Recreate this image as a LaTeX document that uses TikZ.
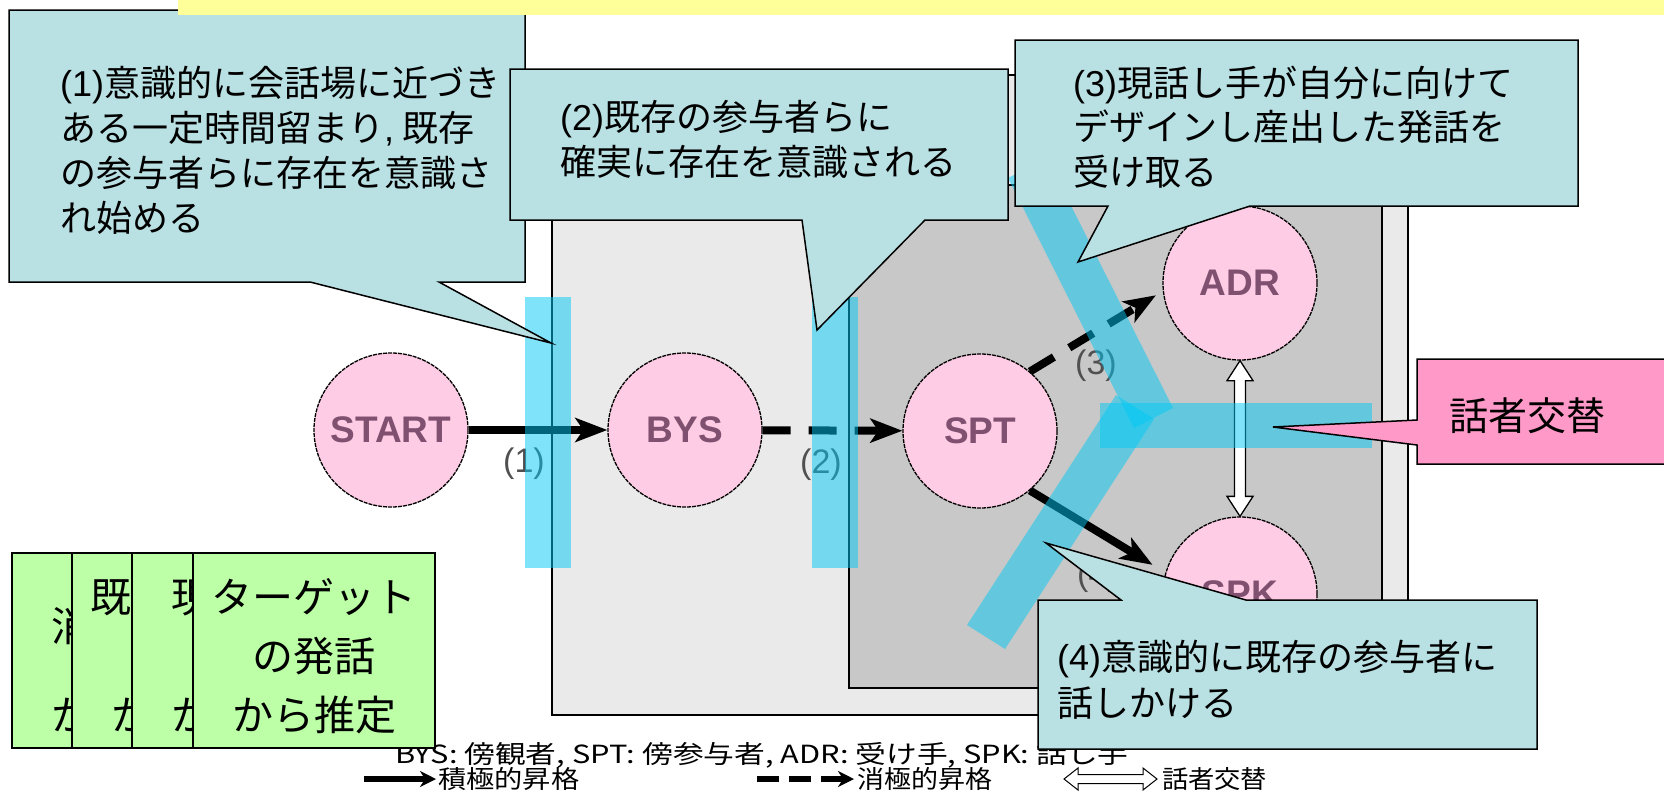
\documentclass[tikz,border=0pt]{standalone}
\usepackage{fontspec}
\setmainfont{Liberation Sans}
\newfontfamily\jp{Noto Sans CJK JP}
\usetikzlibrary{arrows.meta,calc}
\definecolor{cblue}{RGB}{185,224,227}
\definecolor{cpink}{RGB}{255,153,200}
\definecolor{cgreen}{RGB}{188,255,166}
\definecolor{cyellow}{RGB}{255,255,153}
\definecolor{gouter}{RGB}{234,234,234}
\definecolor{ginner}{RGB}{200,200,200}
\definecolor{npink}{RGB}{255,204,229}
\definecolor{ntext}{RGB}{128,80,112}
\definecolor{bcyan}{RGB}{0,200,245}
\definecolor{lgray}{RGB}{80,80,80}
\newcommand{\lat}[1]{{\rmfamily #1}}
\tikzset{
  callout/.style={fill=cblue, draw=black, line width=1.5pt, line join=miter},
  pinkcallout/.style={fill=cpink, draw=black, line width=1.5pt, line join=miter},
  gbox/.style={fill=cgreen, draw=black, line width=1.5pt},
  band/.style={fill=bcyan, fill opacity=0.5},
  state/.style={circle, minimum size=154pt, inner sep=0pt, fill=npink, draw=black,
    line width=1.3pt, dash pattern=on 4pt off 1pt, text=ntext, font=\bfseries\fontsize{37}{37}\selectfont},
  ctext/.style={anchor=base west, inner sep=0pt, font=\jp\fontsize{36}{45}\selectfont},
  gtext/.style={anchor=base, inner sep=0pt, font=\jp\fontsize{41}{58}\selectfont},
  legtext/.style={anchor=base west, inner sep=0pt, font=\jp\fontsize{25}{25}\selectfont},
  elab/.style={text=lgray, inner sep=0pt, font=\fontsize{34}{34}\selectfont},
  solidarr/.style={line width=8pt, -{Stealth[length=32pt,width=24pt,inset=8pt]}},
  dasharr/.style={line width=8pt, dash pattern=on 28pt off 18pt, -{Stealth[length=32pt,width=24pt,inset=8pt]}},
  hollow/.style={fill=white, draw=black, line width=1.3pt, line join=miter}
}
\begin{document}
\begin{tikzpicture}[x=1pt, y=-1pt]
\useasboundingbox (0,0) rectangle (1664,793);
% underlying diagram
\draw[fill=gouter, line width=2pt] (552,75) rectangle (1408,715);
\draw[fill=ginner, line width=2pt] (849,185) rectangle (1382,688);
\node[state] (START) at (391,430) {START};
\node[state] (BYS) at (685,430) {BYS};
\node[state] (SPT) at (980,431) {SPT};
\node[state] (ADR) at (1240,283) {ADR};
\node[state] (SPK) at (1240,594) {SPK};
\draw[solidarr] (START) -- (BYS);
\draw[dasharr] (BYS) -- (SPT);
\draw[dasharr, shorten >=8pt] (SPT.50) -- (ADR.186);
\draw[solidarr, shorten >=15pt] (SPT.-50) -- (SPK.164);
\draw[hollow] (ADR.south) -- ([xshift=13pt,yshift=-20pt]ADR.south) -- ([xshift=5.5pt,yshift=-20pt]ADR.south)
  -- ([xshift=5.5pt,yshift=20pt]SPK.north) -- ([xshift=13pt,yshift=20pt]SPK.north) -- (SPK.north)
  -- ([xshift=-13pt,yshift=20pt]SPK.north) -- ([xshift=-5.5pt,yshift=20pt]SPK.north)
  -- ([xshift=-5.5pt,yshift=-20pt]ADR.south) -- ([xshift=-13pt,yshift=-20pt]ADR.south) -- cycle;
\node[elab] (l1) at (524,464) {(1)};
\node[elab] (l2) at (821,465) {(2)};
\node[elab] (l3) at (1096,366) {(3)};
\node[elab] (l4) at (1098,577) {(4)};
% legend
\node[legtext] (leg1) at (395,763) {\scalebox{1.23}[1]{BYS: 傍観者, SPT: 傍参与者, ADR: 受け手, SPK: 話し手}};
\coordinate (la1) at (364,779);
\coordinate (la2) at (436,779);
\draw[line width=6pt, -{Stealth[length=16pt,width=16pt,inset=5pt]}] (la1) -- (la2);
\node[legtext] (leg2) at (438,788) {\scalebox{1.13}[1]{積極的昇格}};
\coordinate (lb1) at (757,779);
\coordinate (lb2) at (854,779);
\draw[line width=6pt, dash pattern=on 22pt off 10pt, -{Stealth[length=16pt,width=16pt,inset=5pt]}] (lb1) -- (lb2);
\node[legtext] (leg3) at (857,788) {\scalebox{1.08}[1]{消極的昇格}};
\coordinate (lc1) at (1064,779);
\coordinate (lc2) at (1157,779);
\draw[hollow, line width=1pt] (lc1) -- ([xshift=14pt,yshift=11pt]lc1) -- ([xshift=14pt,yshift=4.5pt]lc1)
  -- ([xshift=-14pt,yshift=4.5pt]lc2) -- ([xshift=-14pt,yshift=11pt]lc2) -- (lc2)
  -- ([xshift=-14pt,yshift=-11pt]lc2) -- ([xshift=-14pt,yshift=-4.5pt]lc2)
  -- ([xshift=14pt,yshift=-4.5pt]lc1) -- ([xshift=14pt,yshift=-11pt]lc1) -- cycle;
\node[legtext] (leg4) at (1162,788) {\scalebox{1.05}[1]{話者交替}};
% cyan bands
\fill[band] (525,297) rectangle (571,568);
\fill[band] (812,297) rectangle (858,568);
\fill[band] (1047,158) -- (1173,408) -- (1134,428) -- (1008,178) -- cycle;
\fill[band] (967,625) -- (1005,649) -- (1154,419) -- (1116,395) -- cycle;
\fill[band] (1100,403) rectangle (1372,448);
% callouts
\draw[callout] (9,10) -- (525,10) -- (525,282) -- (439,282) -- (551,343) -- (310,282) -- (9,282) -- cycle;
\node[ctext] (c1a) at (60,96) {\lat{(1)}意識的に会話場に近づき};
\node[ctext] (c1b) at (60,141) {ある一定時間留まり\lat{,} 既存};
\node[ctext] (c1c) at (60,186) {の参与者らに存在を意識さ};
\node[ctext] (c1d) at (60,231) {れ始める};
\draw[callout] (510,69) -- (1008,69) -- (1008,220) -- (925,220) -- (817,330) -- (802,220) -- (510,220) -- cycle;
\node[ctext] (c2a) at (560,130) {\lat{(2)}既存の参与者らに};
\node[ctext] (c2b) at (560,175) {確実に存在を意識される};
\draw[callout] (1015,40) -- (1578,40) -- (1578,206) -- (1250,206) -- (1078,262) -- (1108,206) -- (1015,206) -- cycle;
\node[ctext] (c3a) at (1073,96) {\lat{(3)}現話し手が自分に向けて};
\node[ctext] (c3b) at (1073,140) {デザインし産出した発話を};
\node[ctext] (c3c) at (1073,185) {受け取る};
\draw[callout] (1038,600) -- (1121,600) -- (1046,543) -- (1246,600) -- (1537,600) -- (1537,749) -- (1038,749) -- cycle;
\node[ctext] (c4a) at (1057,670) {\lat{(4)}意識的に既存の参与者に};
\node[ctext] (c4b) at (1057,716) {話しかける};
\draw[pinkcallout] (1417,359) -- (1670,359) -- (1670,464) -- (1417,464) -- (1417,445) -- (1273,427) -- (1417,420) -- cycle;
\node[anchor=base, inner sep=0pt, font=\jp\fontsize{39}{39}\selectfont] (pk) at (1527,430) {話者交替};
% green boxes
\draw[gbox] (12,553) rectangle (254,748);
\node[gtext] (g1a) at (133,641) {消極的な};
\node[gtext] (g1b) at (133,730) {から推定};
\draw[gbox] (72,553) rectangle (314,748);
\node[gtext] (g2a) at (193,612) {既存参与者};
\node[gtext] (g2b) at (193,671) {の発話};
\node[gtext] (g2c) at (193,730) {から推定};
\draw[gbox] (132,553) rectangle (374,748);
\node[gtext] (g3a) at (253,612) {現話し手};
\node[gtext] (g3b) at (253,671) {の発話};
\node[gtext] (g3c) at (253,730) {から推定};
\draw[gbox] (193,553) rectangle (435,748);
\node[gtext] (g4a) at (314,612) {ターゲット};
\node[gtext] (g4b) at (314,671) {の発話};
\node[gtext] (g4c) at (314,730) {から推定};
% banner
\fill[cyellow] (178,-2) rectangle (1670,15);
\end{tikzpicture}
\end{document}
